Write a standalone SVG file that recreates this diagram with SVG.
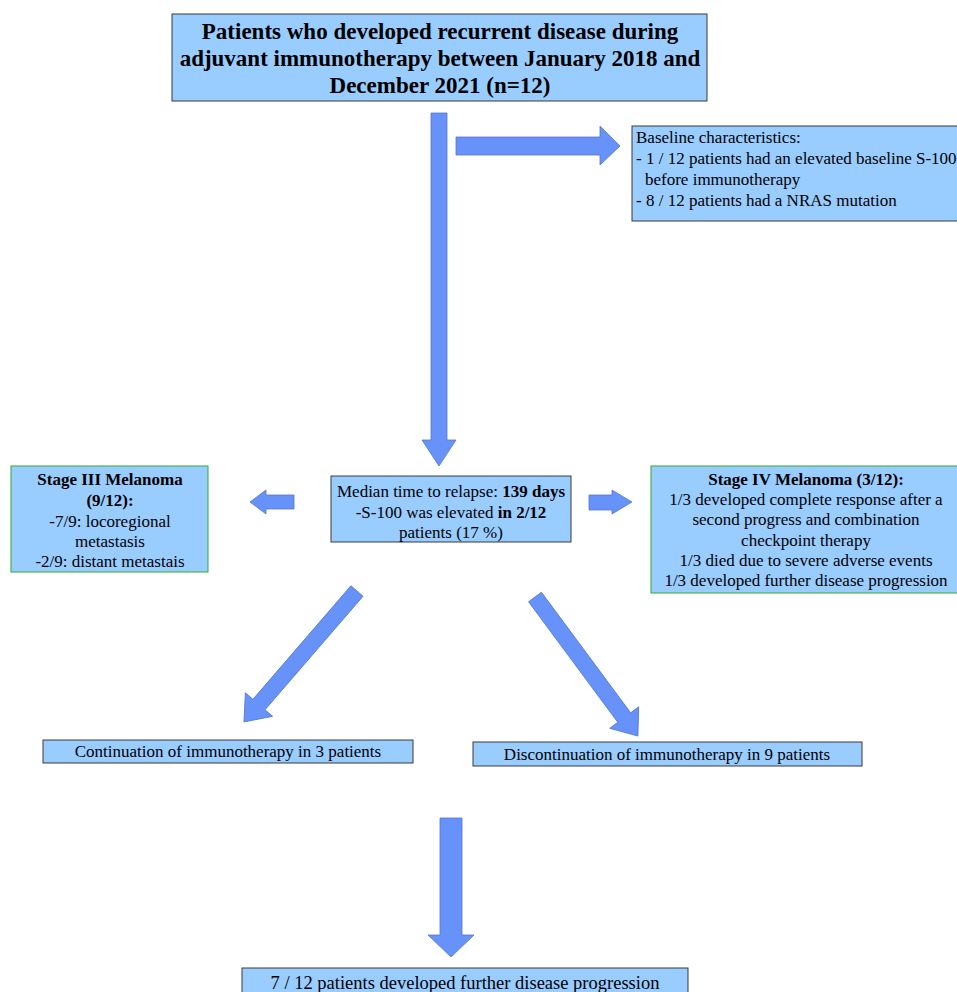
<svg xmlns="http://www.w3.org/2000/svg" width="957" height="992" viewBox="0 0 957 992">
<style>
.box{fill:#99ccff;stroke:#3a3a3a;stroke-width:1}
.gbox{fill:#99ccff;stroke:#33aa33;stroke-width:1}
.arr{fill:#6692fa;stroke:#5577cc;stroke-width:0.8}
text{font-family:"Liberation Serif","Times New Roman",serif;fill:#000}
.t{font-size:17px}
.c{text-anchor:middle}
.title{font-size:23px;font-weight:bold;text-anchor:middle}
.b{font-weight:bold}
</style>
<rect width="957" height="992" fill="#fff"/>
<g id="connectors">
<polygon class="arr" points="431,113 447,113 447,440 456,440 439,466 422,440 431,440"/>
<polygon class="arr" points="456,137 600,137 600,126 620,146 600,165 600,155 456,155"/>
<polygon class="arr" points="294,495 266,495 266,490 250,502 266,514 266,509 294,509"/>
<polygon class="arr" points="589,495 612,495 612,490 632,502 612,514 612,510 589,510"/>
<polygon class="arr" transform="translate(357,591) rotate(130.8)" points="0,-8 150,-8 150,-18 173,0 150,18 150,8 0,8"/>
<polygon class="arr" transform="translate(535,597) rotate(53.5)" points="0,-8 150,-8 150,-18 173,0 150,18 150,8 0,8"/>
<polygon class="arr" points="440,818 462,818 462,935 474,935 451,957 428,935 440,935"/>
</g>
<g id="n-top">
<rect class="box" x="172" y="14" width="535" height="87"/>
<text class="title" x="440" y="39">Patients who developed recurrent disease during</text>
<text class="title" x="440" y="66">adjuvant immunotherapy between January 2018 and</text>
<text class="title" x="440" y="93">December 2021 (n=12)</text>
</g>
<g id="n-baseline">
<rect class="box" x="632" y="126" width="330" height="95"/>
<text class="t" x="636" y="143">Baseline characteristics:</text>
<text class="t" x="636" y="164">- 1 / 12 patients had an elevated baseline S-100</text>
<text class="t" x="645" y="185">before immunotherapy</text>
<text class="t" x="636" y="206">- 8 / 12 patients had a NRAS mutation</text>
</g>
<g id="n-stage3">
<rect class="gbox" x="11" y="466" width="197" height="106"/>
<text class="t c b" x="110" y="485">Stage III Melanoma</text>
<text class="t c b" x="110" y="506">(9/12):</text>
<text class="t c" x="110" y="527">-7/9: locoregional</text>
<text class="t c" x="110" y="547">metastasis</text>
<text class="t c" x="110" y="567">-2/9: distant metastais</text>
</g>
<g id="n-median">
<rect class="box" x="331" y="476" width="240" height="66"/>
<text class="t c" x="451" y="497">Median time to relapse: <tspan class="b">139 days</tspan></text>
<text class="t c" x="451" y="518">-S-100 was elevated <tspan class="b">in 2/12</tspan></text>
<text class="t c" x="451" y="538">patients (17 %)</text>
</g>
<g id="n-stage4">
<rect class="gbox" x="651" y="466" width="310" height="127"/>
<text class="t c b" x="806" y="485">Stage IV Melanoma (3/12):</text>
<text class="t c" x="806" y="505">1/3 developed complete response after a</text>
<text class="t c" x="806" y="525">second progress and combination</text>
<text class="t c" x="806" y="546">checkpoint therapy</text>
<text class="t c" x="806" y="566">1/3 died due to severe adverse events</text>
<text class="t c" x="806" y="586">1/3 developed further disease progression</text>
</g>
<g id="n-continue">
<rect class="box" x="43" y="740" width="370" height="23"/>
<text class="t c" x="228" y="757">Continuation of immunotherapy in 3 patients</text>
</g>
<g id="n-discontinue">
<rect class="box" x="473" y="742" width="389" height="24"/>
<text class="t c" x="667" y="760">Discontinuation of immunotherapy in 9 patients</text>
</g>
<g id="n-progression">
<rect class="box" x="242" y="968" width="446" height="30"/>
<text class="t c" x="465" y="989" style="font-size:18.5px">7 / 12 patients developed further disease progression</text>
</g>
</svg>
